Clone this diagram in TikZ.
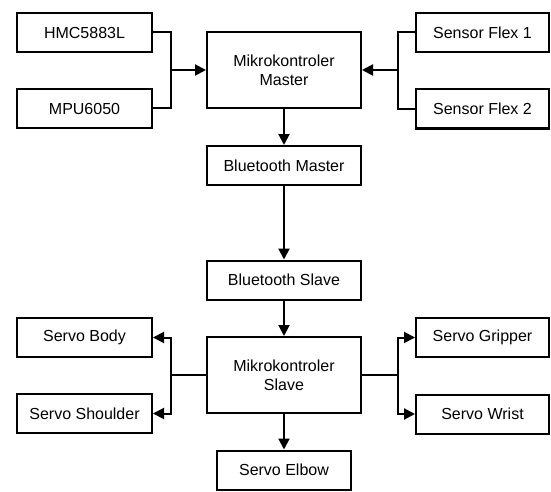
\documentclass[tikz,border=0pt]{standalone}
\usepackage{fontspec}
\setmainfont{Liberation Sans}
\usetikzlibrary{positioning, calc, arrows.meta}

\tikzset{
  blok/.style={draw, line width=2pt, inner sep=0pt, align=center, font=\fontsize{16}{19}\selectfont},
  sisi/.style={blok, minimum width=135pt, minimum height=39pt},
  tengah/.style={blok, minimum width=154pt, minimum height=39pt},
  panah/.style={line width=2pt, -{Triangle[length=11pt, width=11pt]}},
  garis/.style={line width=2pt}
}

\begin{document}
\begin{tikzpicture}[x=1pt, y=-1pt]
			\useasboundingbox (0,0) rectangle (551,492);
			\node (n1) [sisi] at (84.5,32.5) {HMC5883L};
			\node (n2) [sisi] at (84.5,108.5) {MPU6050};
			\node (n3) [tengah, minimum height=76pt] at (284,70) {Mikrokontroler\\Master};
			\node (n4) [sisi, minimum width=133pt] at (482.5,32.5) {Sensor Flex 1};
			\node (n5) [sisi, minimum width=133pt] at (482.5,109) {Sensor Flex 2};
			\node (n6) [tengah] at (284,165.5) {Bluetooth Master};
			\node (n7) [tengah] at (284,280) {Bluetooth Slave};
			\node (n8) [tengah, minimum height=76pt] at (284,375) {Mikrokontroler\\Slave};
			\node (n9) [sisi] at (84.5,337.5) {Servo Body};
			\node (n10) [sisi] at (84.5,413.5) {Servo Shoulder};
			\node (n11) [sisi, minimum width=133pt] at (482.5,337.5) {Servo Gripper};
			\node (n12) [sisi, minimum width=133pt] at (482.5,414) {Servo Wrist};
			\node (n13) [sisi, minimum width=134pt] at (284,470) {Servo Elbow};
			\coordinate (j1) at (171,70);
			\coordinate (j2) at (398,70);
			\coordinate (j3) at (171,375);
			\coordinate (j4) at (398,375);
			
			\draw [garis] (n1.east) -| (j1) |- (n2.east);
			\draw [panah] (j1) -- (n3.west);
			\draw [garis] (n4.west) -| (j2) |- (n5.west);
			\draw [panah] (j2) -- (n3.east);
			
			\draw [panah] (n3) -- (n6);
			\draw [panah] (n6) -- (n7);
			\draw [panah] (n7) -- (n8);
			\draw [panah] (n8) -- (n13);
			
			\draw [garis] (n8.west) -- (j3);
			\draw [panah] (j3) |- (n9.east);
			\draw [panah] (j3) |- (n10.east);
			\draw [garis] (n8.east) -- (j4);
			\draw [panah] (j4) |- (n11.west);
			\draw [panah] (j4) |- (n12.west);
		\end{tikzpicture}
\end{document}
